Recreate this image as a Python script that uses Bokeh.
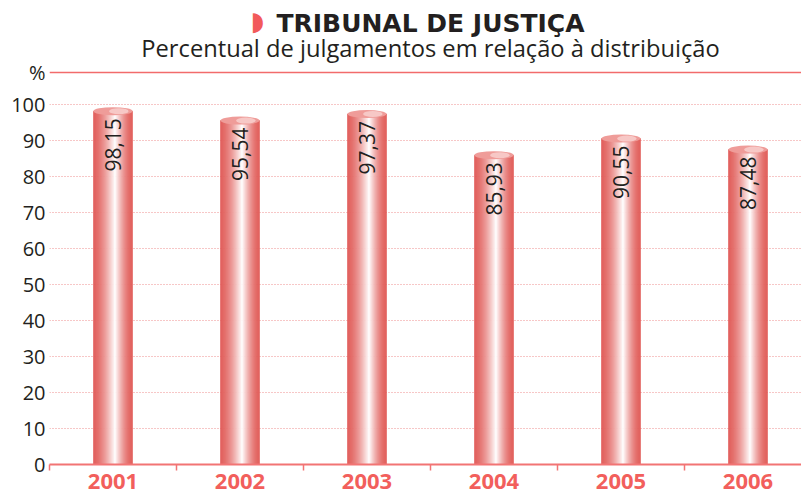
import math
from bokeh.plotting import figure
from bokeh.models import ColumnDataSource, Range1d, FixedTicker, Span, Label
from bokeh.transform import dodge
from bokeh.core.properties import value
from bokeh.embed import file_html
from bokeh.resources import INLINE

# ---- data ----
years = ["2001", "2002", "2003", "2004", "2005", "2006"]
values = [98.15, 95.54, 97.37, 85.93, 90.55, 87.48]
value_labels = ["98,15", "95,54", "97,37", "85,93", "90,55", "87,48"]
y_ticks = [0, 10, 20, 30, 40, 50, 60, 70, 80, 90, 100]
title = "TRIBUNAL DE JUSTIÇA"
subtitle = "Percentual de julgamentos em relação à distribuição"
unit_label = "%"

FONT = "Open Sans"
RED = "#e05b58"
DARK = "#231f20"

xs = [int(y) for y in years]
src = ColumnDataSource(dict(x=xs, value=values, label=value_labels))

band_px = 127.0
frame_w = 752
x_start = xs[0] - 0.5
x_range = Range1d(x_start, x_start + frame_w / band_px)
px_per_unit = 3.6
y_range = Range1d(0, 464 / px_per_unit)
top_line = 108.9

p = figure(width=801, height=494, x_range=x_range, y_range=y_range,
           output_backend="svg", toolbar_location=None,
           min_border_left=49, min_border_right=0, min_border_top=0,
           min_border_bottom=30)
p.outline_line_color = None
p.background_fill_color = "white"
p.border_fill_color = "white"

# grid
p.xgrid.visible = False
p.ygrid.ticker = FixedTicker(ticks=y_ticks)
p.ygrid.grid_line_color = "#ef8f8f"
p.ygrid.grid_line_dash = "1 2"
p.ygrid.grid_line_width = 1

p.add_layout(Span(location=top_line, dimension="width", line_color="#f26b6b",
                  line_width=1.5))

# gradient cylinder bars made of thin strips
bar_w = 39 / band_px
N = 39
peak = 0.56

def mix(c1, c2, f):
    a = [int(c1[i:i + 2], 16) for i in (1, 3, 5)]
    b = [int(c2[i:i + 2], 16) for i in (1, 3, 5)]
    return "#%02x%02x%02x" % tuple(round(a[k] + (b[k] - a[k]) * f) for k in range(3))

for i in range(N):
    t = (i + 0.5) / N
    u = t / peak if t < peak else (1 - t) / (1 - peak)
    f = u ** 1.6
    col = mix(RED, "#ffffff", f)
    off = -bar_w / 2 + (i + 0.5) * bar_w / N
    p.vbar(x=dodge("x", off, range=p.x_range), top="value", bottom=0,
           width=bar_w / N, source=src, fill_color=col,
           line_color=col, line_width=0.6)

# cylinder caps
p.ellipse(x="x", y="value", width=bar_w, height=8, height_units="screen",
          source=src, fill_color="#ef9c99", line_color=None)
p.ellipse(x=dodge("x", bar_w * 0.15, range=p.x_range), y="value", width=bar_w * 0.5,
          height=6, height_units="screen", source=src,
          fill_color="#f8d0ce", fill_alpha=0.85, line_color=None)

# value labels
p.text(x="x", y="value", text="label", source=src, angle=math.pi / 2,
       text_align="right", text_baseline="middle", y_offset=7,
       text_font=value(FONT), text_font_size="21px", text_color=DARK)

# axes
p.xaxis.ticker = FixedTicker(ticks=xs, minor_ticks=[v - 0.5 for v in xs])
p.xaxis.axis_line_color = "#f27474"
p.xaxis.axis_line_width = 2
p.xaxis.major_tick_line_color = None
p.xaxis.major_tick_in = 0
p.xaxis.major_tick_out = 0
p.xaxis.minor_tick_in = 0
p.xaxis.minor_tick_out = 6
p.xaxis.minor_tick_line_color = "#f27474"
p.xaxis.minor_tick_line_width = 1.5
p.xaxis.major_label_text_font = FONT
p.xaxis.major_label_text_font_style = "bold"
p.xaxis.major_label_text_font_size = "22px"
p.xaxis.major_label_text_color = "#f25f5c"
p.xaxis.major_label_standoff = 3
p.xaxis.major_label_overrides = {x: y for x, y in zip(xs, years)}

p.yaxis.ticker = FixedTicker(ticks=y_ticks + [top_line])
p.yaxis.major_label_overrides = {top_line: unit_label}
p.yaxis.axis_line_color = None
p.yaxis.major_tick_line_color = None
p.yaxis.minor_tick_line_color = None
p.yaxis.major_tick_out = 0
p.yaxis.major_label_standoff = 4
p.yaxis.major_label_text_font = FONT
p.yaxis.major_label_text_font_size = "20px"
p.yaxis.major_label_text_color = DARK

# titles
cx = sum(xs) / len(xs)
p.add_layout(Label(x=cx, y=122.5, text=title, text_align="center",
                   text_baseline="alphabetic", text_font="DejaVu Sans",
                   text_font_style="bold", text_font_size="25px", text_color=DARK))
p.add_layout(Label(x=cx, y=123.1, x_offset=-166, text="◗", text_align="right",
                   text_baseline="middle", text_font="DejaVu Sans",
                   text_font_size="26px", text_color="#f25a5a"))
p.add_layout(Label(x=cx, y=115.8, text=subtitle, text_align="center",
                   text_baseline="alphabetic", text_font=FONT,
                   text_font_size="23.7px", text_color=DARK))

open("out.html", "w").write(file_html(p, INLINE))
